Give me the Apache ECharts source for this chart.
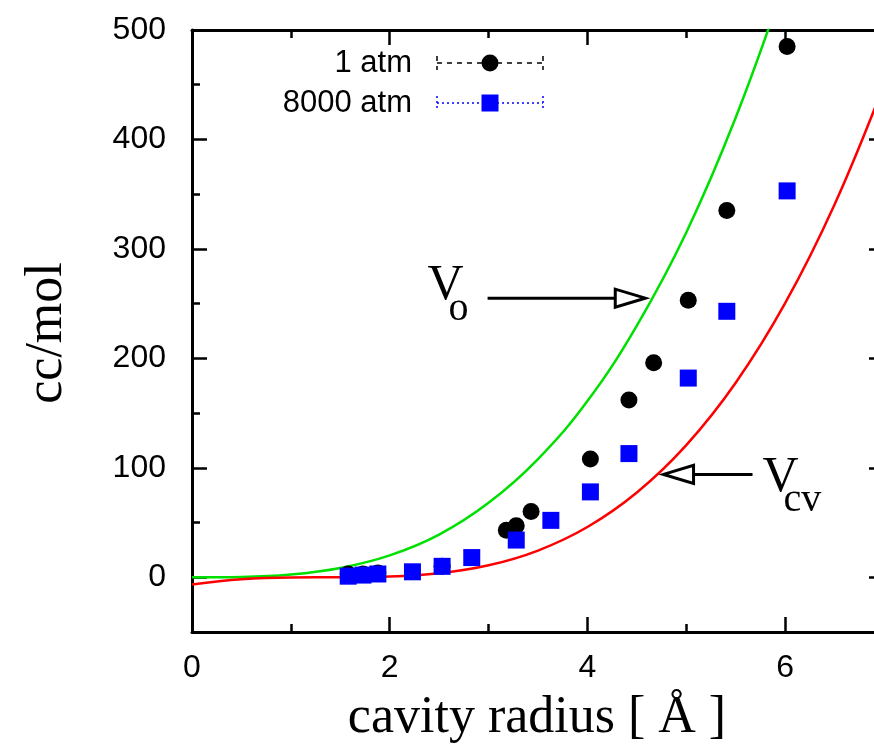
<!DOCTYPE html>
<html>
<head>
<meta charset="utf-8">
<script src="https://cdn.jsdelivr.net/npm/echarts@6/dist/echarts.min.js"></script>
<style>
html,body{margin:0;padding:0;background:#fff;overflow:hidden;width:874px;height:751px;}
#chart{width:886px;height:751px;}
</style>
</head>
<body>
<div id="chart"></div>
<script>
// ---- data ----
const xTicksMajor = [0, 2, 4, 6];
const xTicksMinor = [1, 3, 5];
const yTicksMajor = [0, 100, 200, 300, 400, 500];
const yTicksMinor = [50, 150, 250, 350, 450];

// V_o curve (green)
const voX = [0, 0.5, 1, 1.5, 2, 2.5, 3, 3.5, 4, 4.5, 5, 5.5, 6];
const voY = [0, 0.3, 2.5, 8.5, 20, 39, 68, 108, 161, 230, 315, 420, 545];
// V_cv curve (red)
const vcvX = [0, 0.5, 1, 1.5, 2, 2.5, 3, 3.5, 4, 4.5, 5, 5.5, 6, 6.5, 7];
const vcvY = [-6.5, -1.7, -0.1, 0, 0.6, 3.6, 10.9, 24.4, 45.9, 77.4, 120.7, 177.7, 250.4, 340.6, 450];

// 1 atm (black circles)
const atm1X = [1.58, 1.73, 1.88, 2.53, 3.18, 3.28, 3.43, 4.03, 4.42, 4.67, 5.02, 5.41, 6.02];
const atm1Y = [3, 3, 4, 10, 43, 47, 60, 108, 162, 196, 253, 335, 485];
// 8000 atm (blue squares)
const atm8000X = [1.58, 1.73, 1.88, 2.23, 2.53, 2.83, 3.28, 3.63, 4.03, 4.42, 5.02, 5.41, 6.02];
const atm8000Y = [1, 2, 3, 5, 10, 18, 34, 52, 78, 113, 182, 243, 353];

const legendNames = ['1 atm', '8000 atm'];
const xTitle = 'cavity radius [ Å ]';
const yTitle = 'cc/mol';

// annotation anchors (data coordinates)
const voArrow = {tail: [2.99, 255], tip: [4.585, 255]};
const vcvArrow = {tail: [5.67, 94], tip: [4.77, 94]};

const zip = (xs, ys) => xs.map((x, i) => [x, ys[i]]);

const SANS = '"Liberation Sans", Arial, sans-serif';
const SERIF = '"Liberation Serif", "Times New Roman", serif';

function xAxisDef(position, ticks, len, showLine, showLabels) {
  return {
    type: 'value', min: 0, max: 7, position: position,
    axisLine: {show: showLine, onZero: false, lineStyle: {color: '#000', width: 3}},
    axisTick: {show: true, inside: true, length: len, customValues: ticks, lineStyle: {color: '#000', width: 2.5}},
    axisLabel: {show: showLabels, customValues: xTicksMajor, fontSize: 32, fontFamily: SANS, color: '#000', margin: 20},
    splitLine: {show: false}
  };
}
function yAxisDef(position, ticks, len, showLine, showLabels) {
  return {
    type: 'value', min: -50, max: 500, position: position,
    axisLine: {show: showLine, onZero: false, lineStyle: {color: '#000', width: 3}},
    axisTick: {show: true, inside: true, length: len, customValues: ticks, lineStyle: {color: '#000', width: 2.5}},
    axisLabel: {show: showLabels, customValues: yTicksMajor, fontSize: 32, fontFamily: SANS, color: '#000', margin: 26},
    splitLine: {show: false}
  };
}

const chart = echarts.init(document.getElementById('chart'), null, {renderer: 'canvas'});
chart.setOption({
  animation: false,
  backgroundColor: '#fff',
  grid: {left: 192, right: 2, top: 30, bottom: 119, containLabel: false},
  xAxis: [
    xAxisDef('bottom', xTicksMajor, 15, true, true),
    xAxisDef('bottom', xTicksMinor, 8, false, false),
    xAxisDef('top', xTicksMajor, 15, true, false),
    xAxisDef('top', xTicksMinor, 8, false, false)
  ],
  yAxis: [
    yAxisDef('left', yTicksMajor, 15, true, true),
    yAxisDef('left', yTicksMinor, 8, false, false),
    yAxisDef('right', yTicksMajor, 15, true, false),
    yAxisDef('right', yTicksMinor, 8, false, false)
  ],
  series: [
    {
      name: 'V_o', type: 'line', data: zip(voX, voY), smooth: 0.4, showSymbol: false, clip: true,
      lineStyle: {color: '#00e000', width: 2.5}, z: 2, silent: true
    },
    {
      name: 'V_cv', type: 'line', data: zip(vcvX, vcvY), smooth: 0.4, showSymbol: false, clip: true,
      lineStyle: {color: '#ff0000', width: 2.5}, z: 2, silent: true
    },
    {
      name: legendNames[0], type: 'scatter', data: zip(atm1X, atm1Y), symbol: 'circle', symbolSize: 17,
      itemStyle: {color: '#000', opacity: 1}, z: 3, silent: true
    },
    {
      name: legendNames[1], type: 'scatter', data: zip(atm8000X, atm8000Y), symbol: 'rect', symbolSize: 17,
      itemStyle: {color: '#0000ff', opacity: 1}, z: 4, silent: true
    }
  ]
});

function px(pt) { return chart.convertToPixel({xAxisIndex: 0, yAxisIndex: 0}, pt); }

function txt(x, y, text, size, family, align, rot) {
  return {
    type: 'text', x: x, y: y, rotation: rot || 0, z: 100,
    style: {text: text, fontSize: size, fontFamily: family, fill: '#000',
            align: align, textAlign: align, verticalAlign: 'middle', textVerticalAlign: 'middle'}
  };
}
function arrow(tail, tip) {
  const a = px(tail), b = px(tip);
  const dir = Math.sign(b[0] - a[0]);
  const L = 30, H = 9;
  const base = b[0] - dir * L;
  return [
    {type: 'line', z: 100, shape: {x1: a[0], y1: a[1], x2: base, y2: b[1]}, style: {stroke: '#000', lineWidth: 3}},
    {type: 'polygon', z: 101, shape: {points: [[b[0], b[1]], [base, b[1] - H], [base, b[1] + H]]},
     style: {fill: '#fff', stroke: '#000', lineWidth: 3, lineJoin: 'miter'}}
  ];
}

const g = [];
// axis titles
g.push(txt(537, 718, xTitle, 52, SERIF, 'center'));
g.push(txt(47, 333, yTitle, 52, SERIF, 'center', Math.PI / 2));
// legend
const legY = [63, 103];
g.push(txt(412, legY[0], legendNames[0], 31, SANS, 'right'));
g.push(txt(412, legY[1], legendNames[1], 31, SANS, 'right'));
[[legY[0], '#000', [5, 5]], [legY[1], '#0000ff', [2, 3]]].forEach(([y, c, d]) => {
  g.push({type: 'line', z: 100, shape: {x1: 437, y1: y, x2: 543, y2: y}, style: {stroke: c, lineWidth: 1.5, lineDash: d}});
  g.push({type: 'line', z: 100, shape: {x1: 437, y1: y - 7, x2: 437, y2: y + 7}, style: {stroke: c, lineWidth: 1.5, lineDash: d}});
  g.push({type: 'line', z: 100, shape: {x1: 543, y1: y - 7, x2: 543, y2: y + 7}, style: {stroke: c, lineWidth: 1.5, lineDash: d}});
});
g.push({type: 'circle', z: 102, shape: {cx: 490, cy: legY[0], r: 8.5}, style: {fill: '#000'}});
g.push({type: 'rect', z: 102, shape: {x: 481.5, y: legY[1] - 8.5, width: 17, height: 17}, style: {fill: '#0000ff'}});

// arrows + labels
arrow(voArrow.tail, voArrow.tip).forEach(e => g.push(e));
arrow(vcvArrow.tail, vcvArrow.tip).forEach(e => g.push(e));
const t1 = px(voArrow.tail);
g.push(txt(t1[0] - 60, t1[1] - 12, 'V', 50, SERIF, 'left'));
g.push(txt(t1[0] - 39, t1[1] + 11, 'o', 40, SERIF, 'left'));
const t2 = px(vcvArrow.tail);
g.push(txt(t2[0] + 10, t2[1] + 3, 'V', 50, SERIF, 'left'));
g.push(txt(t2[0] + 31, t2[1] + 26, 'cv', 40, SERIF, 'left'));

chart.setOption({graphic: g});
</script>
</body>
</html>
